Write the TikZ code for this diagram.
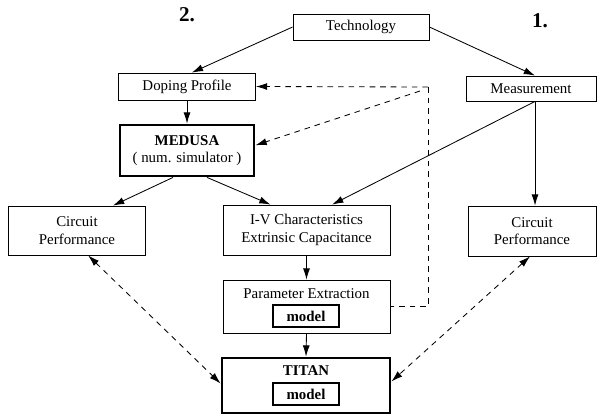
\documentclass[tikz,border=0pt]{standalone}
\usepackage{fontspec}
\setmainfont{Liberation Serif}
\usetikzlibrary{arrows.meta,positioning}

\begin{document}
\begin{tikzpicture}[x=0.025cm,y=-0.025cm,
  box/.style={draw,line width=0.6pt,inner sep=0pt,align=center,font=\fontsize{10.6}{12.5}\selectfont},
  bigbox/.style={box,line width=2pt},
  lbl/.style={inner sep=0pt,font=\fontsize{10.6}{12.5}\selectfont},
  modelbox/.style={draw,line width=0.8pt,minimum width=1.65cm,minimum height=0.55cm,inner sep=0pt,font=\bfseries\fontsize{10.6}{12}\selectfont},
  arr/.style={-{Latex[length=8pt,width=5pt]},line width=0.6pt},
  darr/.style={arr,dash pattern=on 4pt off 3.5pt},
  dline/.style={line width=0.6pt,dash pattern=on 4pt off 3.5pt},
  biarr/.style={{Latex[length=8pt,width=5pt]}-{Latex[length=8pt,width=5pt]},line width=0.6pt,dash pattern=on 4pt off 3.5pt},
  num/.style={font=\bfseries\fontsize{15}{18}\selectfont}
]
\useasboundingbox (0,0) rectangle (597,417);

% boxes
\node[box,minimum width=3.4cm,minimum height=0.65cm] (tech) at (361,27) {Technology};
\node[box,minimum width=3.425cm,minimum height=0.675cm] (dop) at (187,86.5) {Doping Profile};
\node[bigbox,minimum width=3.35cm,minimum height=1.275cm] (med) at (187,150.5) {\textbf{MEDUSA}\\( num. simulator )};
\node[box,minimum width=3.25cm,minimum height=0.625cm] (meas) at (531,88.5) {Measurement};
\node[box,minimum width=3.425cm,minimum height=1.225cm] (cpl) at (77,230.5) {Circuit\\Performance};
\node[box,minimum width=4.175cm,minimum height=1.25cm] (iv) at (306.5,230) {I-V Characteristics\\Extrinsic Capacitance};
\node[box,minimum width=3.2cm,minimum height=1.25cm] (cpr) at (532,231) {Circuit\\Performance};
\node[box,minimum width=4.175cm,minimum height=1.325cm] (pex) at (306.5,306.5) {};
\node[lbl] (pextxt) at (306.5,294) {Parameter Extraction};
\node[modelbox] (pmod) at (306,316) {model};
\node[bigbox,minimum width=4.2cm,minimum height=1.375cm] (titan) at (306,385.5) {};
\node[lbl] (titantxt) at (306,371) {\textbf{TITAN}};
\node[modelbox] (tmod) at (306,394) {model};

\node[num] (two) at (187,15) {2.};
\node[num] (one) at (540,21) {1.};

% solid arrows
\draw[arr] (tech.west) -- ([xshift=0.12cm]dop.north);
\draw[arr] (tech.east) -- ([xshift=0.1cm]meas.north);
\draw[arr] (dop.south) -- (med.north);
\draw[arr] ([xshift=-0.35cm]med.south) -- ([xshift=0.9cm]cpl.north);
\draw[arr] ([xshift=0.5cm]med.south) -- ([xshift=-0.9cm]iv.north);
\draw[arr] ([xshift=0.1cm]meas.south) -- ([xshift=0.64cm]iv.north);
\draw[arr] ([xshift=0.1cm]meas.south) -- ([xshift=0.1cm]meas.south |- cpr.north);
\draw[arr] (iv.south) -- (pex.north);
\draw[arr] (pex.south) -- (titan.north);

% feedback
\coordinate (fb) at (428,87);
\coordinate (fb2) at (420,91);
\draw[darr] (fb) -- (dop.east);
\draw[darr] (fb2) -- ([yshift=0.13cm]med.east);
\draw[dline] (fb) -- (fb |- pex.east) -- (pex.east);

% comparison
\draw[biarr] ([xshift=0.28cm]cpl.south) -- ([yshift=0.05cm]titan.west);
\draw[biarr] ([xshift=-0.05cm]cpr.south) -- ([yshift=0.1cm]titan.east);
\end{tikzpicture}
\end{document}
